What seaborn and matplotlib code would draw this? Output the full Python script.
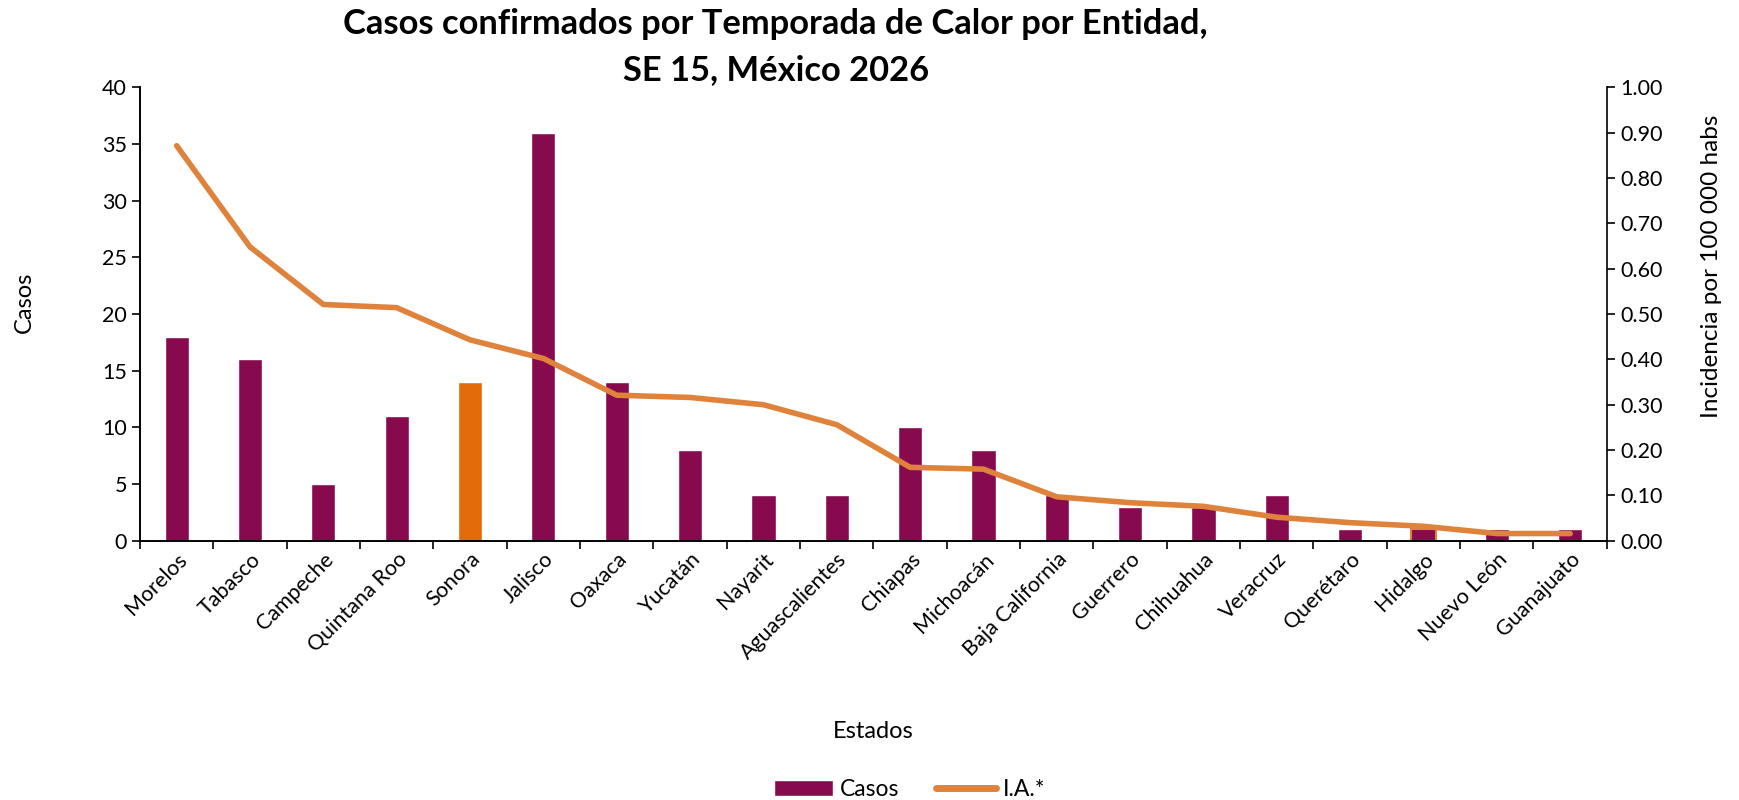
import numpy as np
import pandas as pd
import seaborn as sns
import matplotlib.pyplot as plt
from matplotlib.patches import Patch
from matplotlib.lines import Line2D

estados = ['Morelos', 'Tabasco', 'Campeche', 'Quintana Roo', 'Sonora', 'Jalisco',
           'Oaxaca', 'Yucatán', 'Nayarit', 'Aguascalientes', 'Chiapas', 'Michoacán',
           'Baja California', 'Guerrero', 'Chihuahua', 'Veracruz', 'Querétaro',
           'Hidalgo', 'Nuevo León', 'Guanajuato']
casos = [18, 16, 5, 11, 14, 36, 14, 8, 4, 4, 10, 8, 4, 3, 3, 4, 1, 1, 1, 1]
incidencia = [0.871, 0.648, 0.521, 0.514, 0.443, 0.402, 0.321, 0.316, 0.300, 0.256,
              0.162, 0.158, 0.097, 0.084, 0.076, 0.052, 0.040, 0.032, 0.016, 0.016]

PURPLE = '#880A4E'
ORANGE_BAR = '#E36C0A'
ORANGE_LINE = '#DF823B'


def main():
    sns.set_theme(style='white')
    plt.rcParams['font.family'] = ['Lato', 'DejaVu Sans']
    plt.rcParams['text.color'] = 'black'
    plt.rcParams['axes.labelcolor'] = 'black'
    plt.rcParams['xtick.color'] = 'black'
    plt.rcParams['ytick.color'] = 'black'

    df = pd.DataFrame({'Estado': estados, 'Casos': casos, 'IA': incidencia})
    df['pos'] = np.arange(len(df))
    colors = [ORANGE_BAR if e == 'Sonora' else PURPLE for e in estados]

    fig = plt.figure(figsize=(17.39, 8), dpi=100)
    ax = fig.add_axes([0.0805, 0.324, 0.8435, 0.567])

    sns.barplot(data=df, x='Estado', y='Casos', hue='Estado', palette=colors,
                legend=False, width=0.33, saturation=1, ax=ax)
    # Hidalgo bar has an orange outline in the original
    ax.patches[estados.index('Hidalgo')].set_edgecolor(ORANGE_LINE)
    ax.patches[estados.index('Hidalgo')].set_linewidth(1.5)

    ax.set_ylim(0, 40)
    ax.set_yticks(range(0, 41, 5))
    ax.set_xlim(-0.5, len(estados) - 0.5)
    ax.set_xticks(np.arange(len(estados)))
    ax.set_xticklabels(estados, rotation=45, ha='right', rotation_mode='anchor',
                       fontsize=15.5)
    ax.set_xticks(np.arange(-0.5, len(estados)), minor=True)
    ax.tick_params(axis='x', which='major', length=0, pad=6)
    ax.tick_params(axis='x', which='minor', length=6, width=1.2, color='black',
                   direction='out', bottom=True)
    ax.tick_params(axis='y', length=6, width=1.2, color='black', labelsize=15.5,
                   left=True, direction='out')
    ax.set_xlabel('Estados', fontsize=17, labelpad=42)
    ax.set_ylabel('Casos', fontsize=17, labelpad=48)
    ax.yaxis.label.set_y(0.526)

    ax2 = ax.twinx()
    sns.lineplot(data=df, x='pos', y='IA', color=ORANGE_LINE, linewidth=4,
                 sort=False, ax=ax2, solid_capstyle='round')
    ax2.set_ylim(0, 1.0)
    ax2.set_yticks(np.arange(0, 1.01, 0.1))
    ax2.set_yticklabels([f'{v:.2f}' for v in np.arange(0, 1.01, 0.1)])
    ax2.tick_params(axis='y', length=6, width=1.2, color='black', labelsize=15.5,
                    right=True, direction='out')
    ax2.set_ylabel('Incidencia por 100 000 habs', fontsize=17.5, labelpad=28)
    ax2.yaxis.label.set_y(0.606)
    ax2.set_xlabel('')
    ax2.set_xlim(-0.5, len(estados) - 0.5)

    for a in (ax, ax2):
        a.spines['top'].set_visible(False)
        for s in ('left', 'right', 'bottom'):
            a.spines[s].set_color('black')
            a.spines[s].set_linewidth(1.2)
    ax.spines['right'].set_visible(False)

    fig.text(0.446, 0.99,
             'Casos confirmados por Temporada de Calor por Entidad,\nSE 15, México 2026',
             ha='center', va='top', fontsize=24.8, fontweight='bold', linespacing=1.55)

    handles = [Patch(facecolor=PURPLE, label='Casos'),
               Line2D([0], [0], color=ORANGE_LINE, linewidth=5, label='I.A.*',
                      solid_capstyle='round')]
    fig.legend(handles=handles, loc='lower center', bbox_to_anchor=(0.523, -0.026),
               ncol=2, frameon=False, fontsize=16.5, handlelength=2.6,
               columnspacing=1.6, handletextpad=0.3)

    fig.savefig('out.png', dpi=100)


if __name__ == '__main__':
    main()
